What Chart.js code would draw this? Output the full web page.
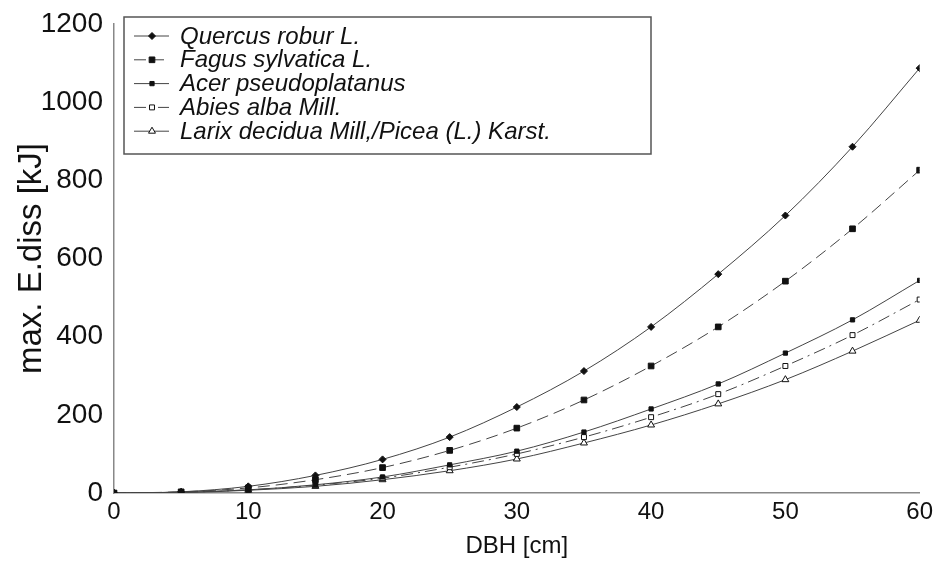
<!DOCTYPE html>
<html>
<head>
<meta charset="utf-8">
<script src="https://cdn.jsdelivr.net/npm/chart.js@4.4.0/dist/chart.umd.min.js"></script>
<style>
  html, body { margin: 0; padding: 0; background: #fff; }
</style>
</head>
<body>
<canvas id="chartEnergia" width="933" height="561"></canvas>
<script>
// DBH values (cm)
const dbh = [0, 5, 10, 15, 20, 25, 30, 35, 40, 45, 50, 55, 60];

// max. E.diss (kJ) per species
const quercus = [0, 3, 17, 45, 86, 143, 220, 312, 425, 560, 710, 886, 1087];
const fagus   = [0, 3, 13, 34, 65, 109, 166, 238, 325, 425, 542, 676, 826];
const acer    = [0, 2, 8, 21, 41, 72, 107, 156, 215, 279, 358, 443, 544];
const abies   = [0, 2, 8, 20, 38, 66, 100, 143, 194, 253, 325, 404, 495];
const larix   = [0, 1, 7, 17, 34, 57, 87, 128, 174, 228, 290, 363, 442];

const speciesNames = [
  'Quercus robur L.',
  'Fagus sylvatica L.',
  'Acer pseudoplatanus',
  'Abies alba Mill.',
  'Larix decidua Mill,/Picea (L.) Karst.'
];

const xTicks = [0, 10, 20, 30, 40, 50, 60];
const yTicks = [0, 200, 400, 600, 800, 1000, 1200];

const lineColor = '#444';

function puntos(values) {
  return dbh.map((x, i) => ({ x: x, y: values[i] }));
}

const estilos = [
  { dash: [], pointStyle: 'rectRot', radius: 3.5, fill: '#111' },
  { dash: [12, 6], pointStyle: 'rect', radius: 4, fill: '#111' },
  { dash: [], pointStyle: 'rect', radius: 3, fill: '#111' },
  { dash: [12, 5, 2, 5], pointStyle: 'rect', radius: 3.5, fill: '#fff' },
  { dash: [], pointStyle: 'triangle', radius: 4, fill: '#fff' }
];

const series = [quercus, fagus, acer, abies, larix];

const datasets = series.map((s, i) => ({
  label: speciesNames[i],
  data: puntos(s),
  borderColor: lineColor,
  borderWidth: 1,
  borderDash: estilos[i].dash,
  pointStyle: estilos[i].pointStyle,
  pointRadius: estilos[i].radius,
  pointBackgroundColor: estilos[i].fill,
  pointBorderColor: '#111',
  pointBorderWidth: 1,
  tension: 0.4,
  cubicInterpolationMode: 'monotone',
  fill: false
}));

// LEYENDA DENTRO DEL GRAFICO
const leyendaBox = {
  id: 'leyendaBox',
  afterDraw(chart) {
    const ctx = chart.ctx;
    const x0 = 124, y0 = 17, w = 527, h = 137;
    ctx.save();
    ctx.fillStyle = '#fff';
    ctx.fillRect(x0, y0, w, h);
    ctx.strokeStyle = '#555';
    ctx.lineWidth = 1.5;
    ctx.strokeRect(x0, y0, w, h);
    ctx.font = 'italic 24px "Liberation Sans", Arial, sans-serif';
    ctx.textBaseline = 'middle';
    chart.data.datasets.forEach((ds, i) => {
      const yy = 36 + i * 23.8;
      ctx.strokeStyle = lineColor;
      ctx.lineWidth = 1;
      ctx.setLineDash(ds.borderDash);
      ctx.beginPath();
      ctx.moveTo(134, yy);
      ctx.lineTo(169, yy);
      ctx.stroke();
      ctx.setLineDash([]);
      ctx.fillStyle = ds.pointBackgroundColor;
      ctx.strokeStyle = '#111';
      Chart.helpers.drawPoint(ctx, {
        pointStyle: ds.pointStyle,
        radius: ds.pointRadius,
        borderWidth: 1
      }, 152, yy);
      ctx.fillStyle = '#111';
      ctx.fillText(ds.label, 180, yy + 1);
    });
    ctx.restore();
  }
};

const chartEnergia = document.getElementById('chartEnergia');

new Chart(chartEnergia, {
  type: 'line',
  data: { datasets: datasets },
  options: {
    responsive: false,
    animation: false,
    devicePixelRatio: 1,
    layout: { padding: { top: 24, right: 11, left: 0, bottom: 0 } },
    plugins: {
      legend: { display: false },
      tooltip: { enabled: false }
    },
    scales: {
      x: {
        type: 'linear',
        min: 0,
        max: 60,
        afterBuildTicks: (scale) => { scale.ticks = xTicks.map(v => ({ value: v })); },
        afterFit: (scale) => { scale.height = 68; },
        grid: { display: false, drawTicks: true, tickLength: 5, tickColor: '#888' },
        border: { color: '#888', width: 1.5 },
        ticks: {
          color: '#111',
          padding: 0,
          maxRotation: 0,
          callback: (v) => String(v),
          font: { family: '"Liberation Sans", Arial', size: 24 }
        },
        title: {
          display: true,
          text: 'DBH [cm]',
          color: '#111',
          padding: { top: 0, bottom: 0 },
          font: { family: '"Liberation Sans", Arial', size: 24 }
        }
      },
      y: {
        min: 0,
        max: 1200,
        afterBuildTicks: (scale) => { scale.ticks = yTicks.map(v => ({ value: v })); },
        afterFit: (scale) => { scale.width = 114; },
        grid: { display: false, drawTicks: true, tickLength: 5, tickColor: '#888' },
        border: { color: '#888', width: 1.5 },
        ticks: {
          color: '#111',
          padding: 6,
          callback: (v) => String(v),
          font: { family: '"Liberation Sans", Arial', size: 28 }
        },
        title: {
          display: true,
          text: 'max. E.diss [kJ]',
          color: '#111',
          padding: { top: 12, bottom: 0 },
          font: { family: '"Liberation Sans", Arial', size: 33 }
        }
      }
    }
  },
  plugins: [leyendaBox]
});
</script>
</body>
</html>
